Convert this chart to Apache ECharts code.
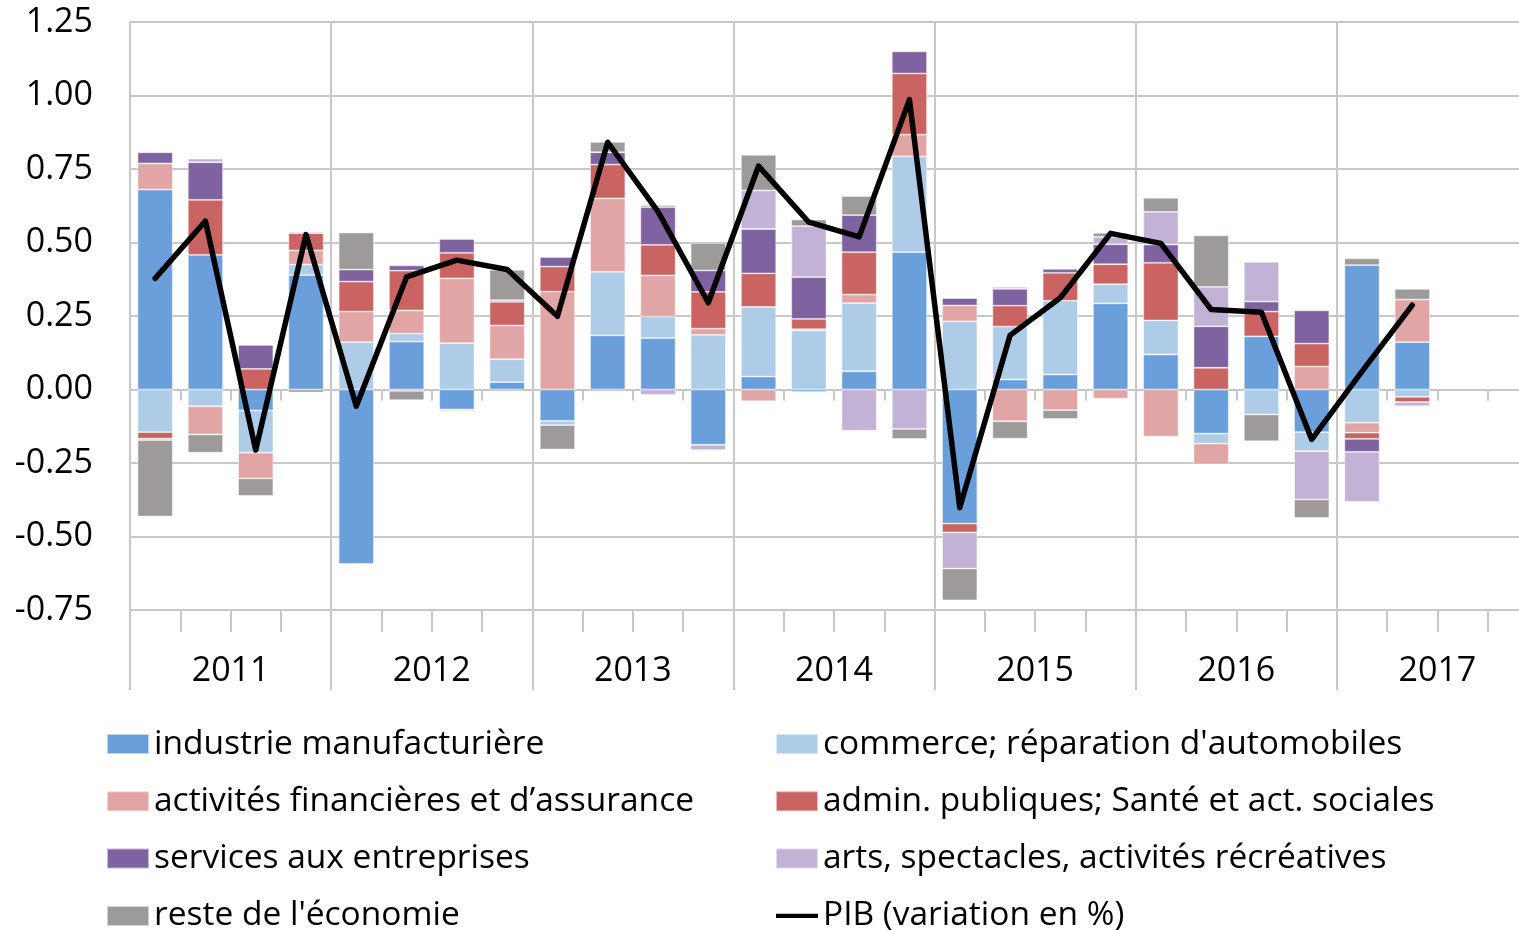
<!DOCTYPE html>
<html>
<head>
<meta charset="utf-8">
<script src="https://cdn.jsdelivr.net/npm/echarts@6/dist/echarts.min.js"></script>
<style>
html,body{margin:0;padding:0;background:#fff;}
#chart{width:1519px;height:930px;}
</style>
</head>
<body>
<div id="chart"></div>
<script>
// Quarters (2011 T1 .. 2017 T4) and year labels
const years = ['2011','2012','2013','2014','2015','2016','2017'];
const quarters = [];
years.forEach(y => { for (let q = 1; q <= 4; q++) quarters.push(y + ' T' + q); });

const yTicks = { min: -0.75, max: 1.25, interval: 0.25 };

const industrie = [0.68, 0.458, -0.071, 0.389, -0.593, 0.163, -0.068, 0.025, -0.107, 0.184, 0.175, -0.188, 0.044, -0.008, 0.062, 0.467, -0.456, 0.034, 0.051, 0.293, 0.119, -0.150, 0.181, -0.145, 0.423, 0.161];
const commerce = [-0.145, -0.057, -0.144, 0.036, 0.161, 0.027, 0.158, 0.078, -0.014, 0.216, 0.073, 0.186, 0.237, 0.200, 0.232, 0.326, 0.232, 0.180, 0.251, 0.065, 0.116, -0.034, -0.085, -0.065, -0.113, -0.025];
const finance = [0.089, -0.096, -0.087, 0.048, 0.104, 0.079, 0.220, 0.115, 0.333, 0.250, 0.140, 0.021, -0.040, 0.005, 0.029, 0.074, 0.054, -0.108, -0.070, -0.031, -0.160, -0.071, 0, 0.078, -0.034, 0.145];
const admin = [-0.022, 0.187, 0.070, 0.059, 0.102, 0.135, 0.087, 0.080, 0.085, 0.115, 0.104, 0.125, 0.114, 0.035, 0.144, 0.208, -0.030, 0.071, 0.095, 0.068, 0.196, 0.074, 0.084, 0.078, -0.021, -0.018];
const services = [0.038, 0.128, 0.082, 0, 0.041, 0.018, 0.047, 0.006, 0.033, 0.042, 0.128, 0.073, 0.151, 0.142, 0.126, 0.075, 0.025, 0.057, 0.013, 0.068, 0.062, 0.141, 0.034, 0.113, -0.044, 0];
const arts = [-0.005, 0.012, 0, 0.005, 0, -0.005, 0, 0, 0, 0, -0.018, -0.018, 0.131, 0.174, -0.140, -0.134, -0.123, 0.007, 0.004, 0.025, 0.111, 0.134, 0.135, -0.164, -0.170, -0.014];
const reste = [-0.26, -0.062, -0.06, -0.010, 0.126, -0.031, -0.005, 0.103, -0.083, 0.035, 0.007, 0.093, 0.121, 0.022, 0.065, -0.034, -0.108, -0.059, -0.030, 0.014, 0.048, 0.175, -0.091, -0.063, 0.023, 0.036];
const pib = [0.378, 0.573, -0.206, 0.527, -0.057, 0.383, 0.440, 0.408, 0.249, 0.841, 0.605, 0.295, 0.760, 0.569, 0.519, 0.986, -0.402, 0.184, 0.312, 0.531, 0.497, 0.272, 0.263, -0.170, 0.062, 0.287];

const names = {
  ind: 'industrie manufacturière',
  com: "commerce; réparation d'automobiles",
  fin: 'activités financières et d’assurance',
  adm: 'admin. publiques; Santé et act. sociales',
  ser: 'services aux entreprises',
  art: 'arts, spectacles, activités récréatives',
  res: "reste de l'économie",
  pib: 'PIB (variation en %)'
};
const colors = {
  ind: '#6b9fdc', com: '#aecbe8', fin: '#e1a5a5', adm: '#c96462',
  ser: '#7f62a0', art: '#c2b2d5', res: '#9e9a99'
};

const FONT = 'Open Sans';
const FS = 34;
const GRID = '#c8c8c8';

function barSeries(key, data) {
  return {
    name: names[key], type: 'bar', stack: 'total', data: data,
    xAxisIndex: 0, yAxisIndex: 0,
    barCategoryGap: '30%',
    itemStyle: { color: colors[key], borderColor: 'rgba(255,255,255,0.55)', borderWidth: 0.8 },
    emphasis: { disabled: true }
  };
}

const legendBase = {
  orient: 'vertical', top: 724, height: 260, padding: 0,
  icon: 'rect',
  itemWidth: 42, itemHeight: 20, itemGap: 17.3,
  textStyle: { color: '#000', fontFamily: FONT, fontSize: 33.5, lineHeight: 40 },
  selectedMode: false
};

const chart = echarts.init(document.getElementById('chart'), null, { renderer: 'canvas' });
chart.setOption({
  animation: false,
  backgroundColor: '#fff',
  grid: { left: 130, width: 1408, top: 22, bottom: 320, containLabel: false, outerBoundsMode: 'none' },
  xAxis: [
    { // quarter axis on zero
      type: 'category', data: quarters, position: 'bottom',
      axisLine: { show: true, onZero: true, lineStyle: { color: GRID, width: 2 } },
      axisTick: { show: true, interval: 0, length: 11, lineStyle: { color: GRID, width: 2 } },
      axisLabel: { show: false }, splitLine: { show: false }
    },
    { // quarter separators at bottom
      type: 'category', data: quarters, position: 'bottom',
      axisLine: { show: false, onZero: false },
      axisTick: { show: true, interval: 0, length: 22, lineStyle: { color: GRID, width: 2 } },
      axisLabel: { show: false }, splitLine: { show: false }
    },
    { // years
      type: 'category', data: years, position: 'bottom',
      axisLine: { show: false, onZero: false },
      axisTick: { show: true, interval: 0, length: 80, lineStyle: { color: GRID, width: 2 } },
      axisLabel: { show: true, interval: 0, margin: 44, color: '#000', fontFamily: FONT, fontSize: FS },
      splitLine: { show: true, interval: 0, lineStyle: { color: GRID, width: 2 } }
    }
  ],
  yAxis: {
    type: 'value', min: yTicks.min, max: yTicks.max, interval: yTicks.interval,
    axisLine: { show: false }, axisTick: { show: false },
    axisLabel: { margin: 37, color: '#000', fontFamily: FONT, fontSize: FS,
      formatter: v => v.toFixed(2) },
    splitLine: { show: true, lineStyle: { color: GRID, width: 2 } }
  },
  legend: [
    Object.assign({}, legendBase, {
      left: 106,
      data: [names.ind, names.fin, names.ser, names.res]
    }),
    Object.assign({}, legendBase, {
      left: 775,
      data: [names.com, names.adm, names.art,
        { name: names.pib, icon: 'path://M0,0 L40,0 L40,4 L0,4 Z', itemStyle: { color: '#000' } }]
    })
  ],
  series: [
    barSeries('ind', industrie),
    barSeries('com', commerce),
    barSeries('fin', finance),
    barSeries('adm', admin),
    barSeries('ser', services),
    barSeries('art', arts),
    barSeries('res', reste),
    {
      name: names.pib, type: 'line', data: pib, xAxisIndex: 0, yAxisIndex: 0,
      symbol: 'none', z: 5,
      lineStyle: { color: '#000', width: 5.5, cap: 'round', join: 'round' },
      itemStyle: { color: '#000' },
      emphasis: { disabled: true }
    }
  ]
});
</script>
</body>
</html>
